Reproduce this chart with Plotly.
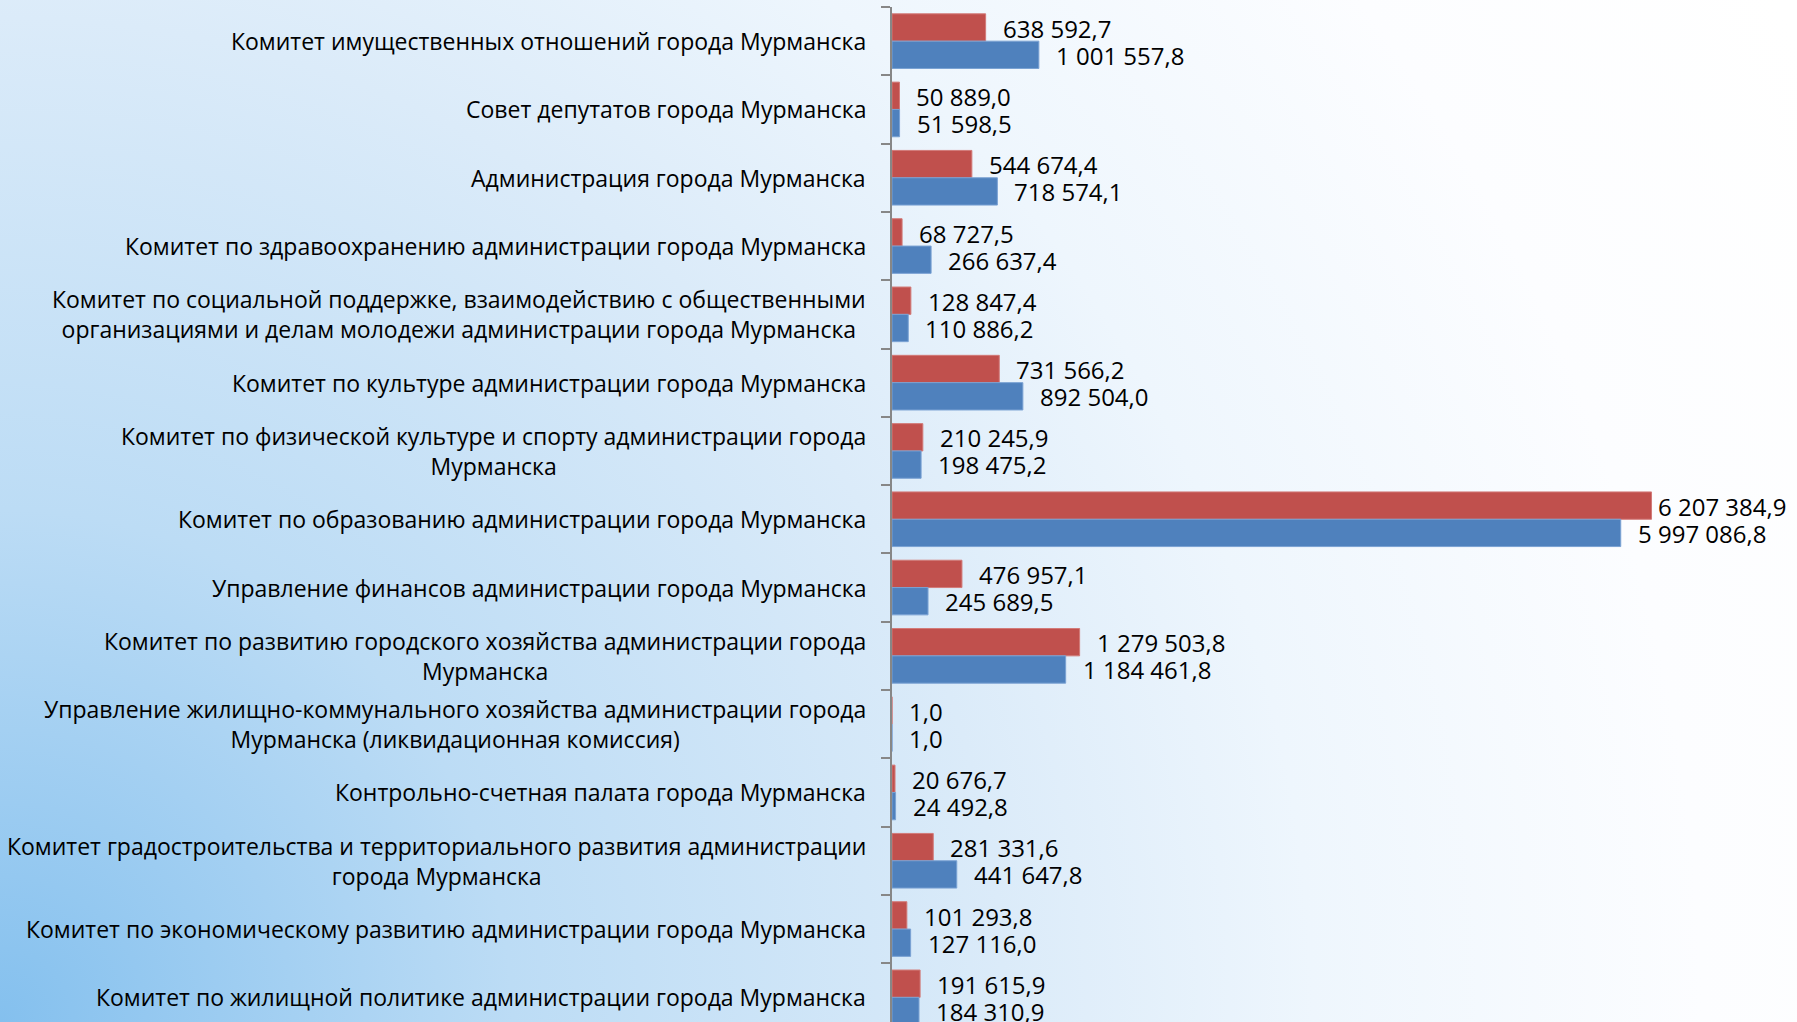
import base64
import plotly.graph_objects as go

categories = [
    "Комитет имущественных отношений города Мурманска",
    "Совет депутатов города Мурманска",
    "Администрация города Мурманска",
    "Комитет по здравоохранению администрации города Мурманска",
    "Комитет по социальной поддержке, взаимодействию с общественными<br>организациями и делам молодежи администрации города Мурманска",
    "Комитет по культуре администрации города Мурманска",
    "Комитет по физической культуре и спорту администрации города<br>Мурманска",
    "Комитет по образованию администрации города Мурманска",
    "Управление финансов администрации города Мурманска",
    "Комитет по развитию городского хозяйства администрации города<br>Мурманска",
    "Управление жилищно-коммунального хозяйства администрации города<br>Мурманска (ликвидационная комиссия)",
    "Контрольно-счетная палата города Мурманска",
    "Комитет градостроительства и территориального развития администрации<br>города Мурманска",
    "Комитет по экономическому развитию администрации города Мурманска",
    "Комитет по жилищной политике администрации города Мурманска",
]

# bar lengths as drawn in the picture (education bars are drawn shorter than their labels)
red_values = [638592.7, 50889.0, 544674.4, 68727.5, 128847.4, 731566.2, 210245.9,
              5180000.0, 476957.1, 1279503.8, 1.0, 20676.7, 281331.6, 101293.8, 191615.9]
blue_values = [1001557.8, 51598.5, 718574.1, 266637.4, 110886.2, 892504.0, 198475.2,
               4970000.0, 245689.5, 1184461.8, 1.0, 24492.8, 441647.8, 127116.0, 184310.9]

red_labels = ["638 592,7", "50 889,0", "544 674,4", "68 727,5", "128 847,4", "731 566,2",
              "210 245,9", "6 207 384,9", "476 957,1", "1 279 503,8", "1,0", "20 676,7",
              "281 331,6", "101 293,8", "191 615,9"]
blue_labels = ["1 001 557,8", "51 598,5", "718 574,1", "266 637,4", "110 886,2", "892 504,0",
               "198 475,2", "5 997 086,8", "245 689,5", "1 184 461,8", "1,0", "24 492,8",
               "441 647,8", "127 116,0", "184 310,9"]

W, H = 1797, 1022
ML, MR, MT, MB = 892, 0, 7, 0
FONT = "Open Sans, Noto Sans, sans-serif"
UNITS_PER_PX = 6820

RED = "#c0504d"
BLUE = "#4f81bd"

fig = go.Figure()
fig.add_trace(go.Bar(y=categories, x=red_values, orientation="h", name="red",
                     marker=dict(color=RED, line=dict(color="#d27a78", width=1)),
                     hoverinfo="x+y"))
fig.add_trace(go.Bar(y=categories, x=blue_values, orientation="h", name="blue",
                     marker=dict(color=BLUE, line=dict(color="#7aa2d3", width=1)),
                     hoverinfo="x+y"))


def label_shift(value, text):
    # keep value labels inside the chart area, as the reference does
    end_px = ML + value / UNITS_PER_PX
    text_w = len(text) * 12.3
    room = W - 8 - end_px - text_w
    return max(4, min(15, room))


annotations = []
for i, cat in enumerate(categories):
    annotations.append(dict(xref="paper", yref="y", x=0, y=i, xshift=-24,
                            xanchor="right", yanchor="middle", align="center",
                            text=cat, showarrow=False,
                            font=dict(family=FONT, size=23, color="#000000")))
    annotations.append(dict(xref="x", yref="y", x=red_values[i], y=i,
                            xshift=label_shift(red_values[i], red_labels[i]), yshift=13,
                            xanchor="left", yanchor="middle", text=red_labels[i],
                            showarrow=False, font=dict(family=FONT, size=24, color="#000000")))
    annotations.append(dict(xref="x", yref="y", x=blue_values[i], y=i,
                            xshift=label_shift(blue_values[i], blue_labels[i]), yshift=-14,
                            xanchor="left", yanchor="middle", text=blue_labels[i],
                            showarrow=False, font=dict(family=FONT, size=24, color="#000000")))

svg = f'''<svg xmlns="http://www.w3.org/2000/svg" width="{W}" height="{H}" viewBox="0 0 {W} {H}" preserveAspectRatio="none">
<defs><radialGradient id="g" gradientUnits="userSpaceOnUse" cx="0" cy="{H}" r="2050">
<stop offset="0" stop-color="#84c0ee"/>
<stop offset="0.25" stop-color="#bcdcf5"/>
<stop offset="0.49" stop-color="#dbebf9"/>
<stop offset="0.64" stop-color="#eef6fd"/>
<stop offset="0.83" stop-color="#fcfdff"/>
<stop offset="1" stop-color="#ffffff"/>
</radialGradient></defs>
<rect x="0" y="0" width="{W}" height="{H}" fill="url(#g)"/></svg>'''
src = "data:image/svg+xml;base64," + base64.b64encode(svg.encode("utf-8")).decode("ascii")

pw = W - ML - MR
ph = H - MT - MB
cat_px = 68.3
n_vis = ph / cat_px

fig.update_layout(
    width=W, height=H, autosize=False,
    margin=dict(l=ML, r=MR, t=MT, b=MB, pad=0),
    paper_bgcolor="white", plot_bgcolor="rgba(0,0,0,0)",
    barmode="group", bargap=0.2, bargroupgap=0.0,
    showlegend=False,
    font=dict(family=FONT, size=24, color="#000000"),
    xaxis=dict(range=[0, pw * UNITS_PER_PX], showgrid=False, zeroline=False,
               showticklabels=False, showline=False, ticks=""),
    yaxis=dict(type="category", range=[-0.5 + n_vis, -0.5], showgrid=False,
               zeroline=False, showticklabels=False, showline=True,
               linecolor="#878787", linewidth=2, ticks="outside", ticklen=9,
               tickwidth=2, tickcolor="#878787", tickson="boundaries"),
    annotations=annotations,
    images=[dict(source=src, xref="paper", yref="paper", x=-ML / pw, y=1 + MT / ph,
                 sizex=W / pw, sizey=H / ph, sizing="stretch", xanchor="left",
                 yanchor="top", layer="below")],
)

fig.write_html("out.html", post_script="document.body.style.margin='0';",
               config={"displayModeBar": False})
